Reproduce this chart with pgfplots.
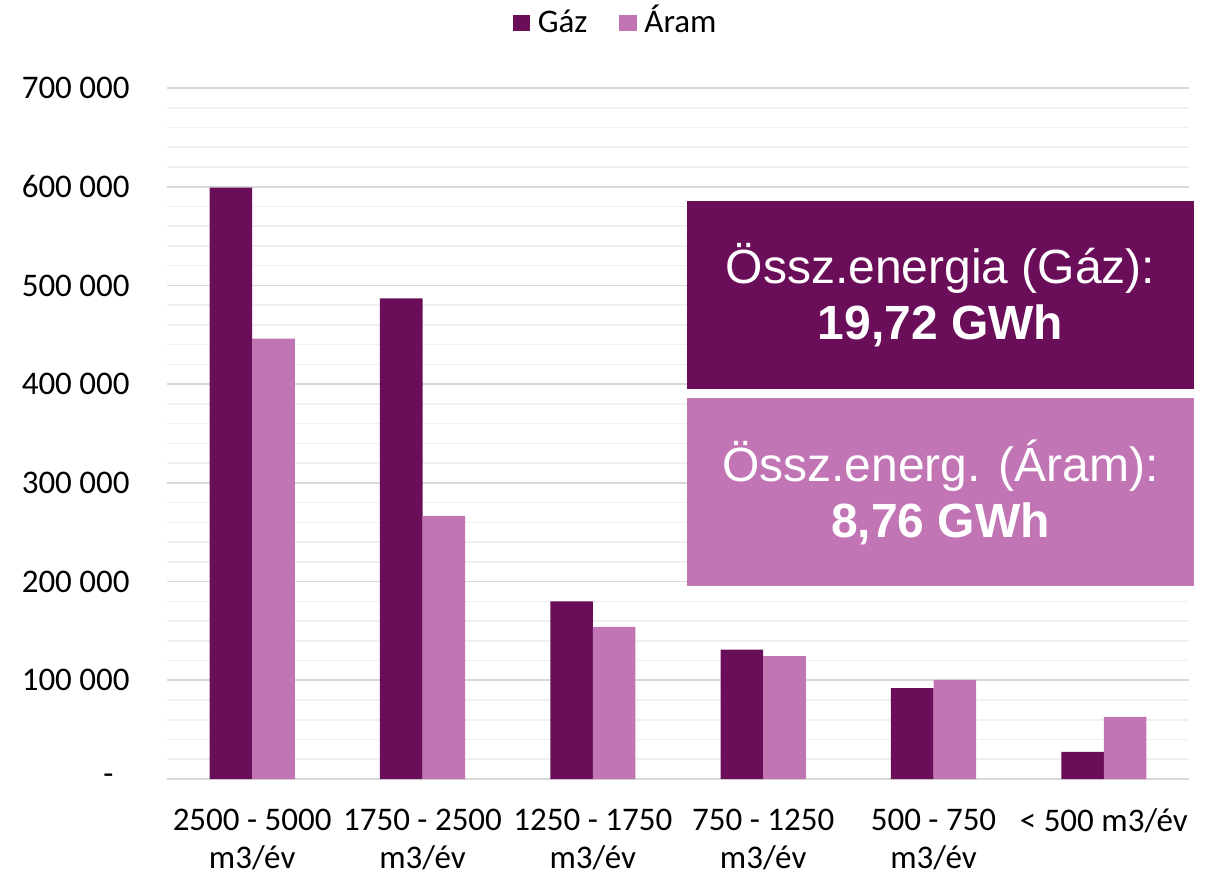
\documentclass[border=0pt]{standalone}
\usepackage{fontspec}
\setmainfont{Carlito}
\newfontfamily\arial{Liberation Sans}
\usepackage{pgfplots}
\pgfplotsset{compat=1.18}
\definecolor{gaz}{HTML}{6B0E5A}
\definecolor{aram}{HTML}{C175B4}
\definecolor{majgrid}{HTML}{D9D9D9}
\definecolor{mingrid}{HTML}{F0F0F0}
\begin{document}
\begin{tikzpicture}
\useasboundingbox (0,0) rectangle (604.5pt,437pt);
\begin{axis}[
  at={(83.5pt,47.5pt)}, anchor=south west,
  scale only axis, width=511pt, height=345.5pt,
  ybar=0pt, bar width=0.25,
  xmin=-0.5, xmax=5.5, ymin=0, ymax=700000,
  scaled y ticks=false,
  xtick={0,1,2,3,4,5},
  xticklabels={{2500 - 5000\\m3/év},{1750 - 2500\\m3/év},{1250 - 1750\\m3/év},{750 - 1250\\m3/év},{500 - 750\\m3/év},{< 500 m3/év}},
  ytick={0,100000,200000,300000,400000,500000,600000,700000},
  yticklabels={{-\hspace*{8pt}},{100 000},{200 000},{300 000},{400 000},{500 000},{600 000},{700 000}},
  minor y tick num=4,
  ymajorgrids, yminorgrids,
  major grid style={draw=majgrid, line width=0.8pt},
  minor grid style={draw=mingrid, line width=0.8pt},
  axis line style={draw=none},
  tick style={draw=none},
  tick label style={font=\fontsize{16.5}{19}\selectfont},
  yticklabel style={anchor=east, inner sep=0pt, xshift=-18.5pt},
  xticklabel style={align=center, anchor=north, inner sep=0pt, yshift=-10.5pt},
  legend style={at={(0.44,1.094)}, anchor=center, draw=none, fill=none,
    legend columns=2, font=\fontsize{16.5}{19.5}\selectfont,
    nodes={text height=12pt, text depth=3pt},
    /tikz/every even column/.append style={column sep=14pt}},
  legend image code/.code={\fill[#1] (0pt,-4.2pt) rectangle (8.6pt,4.2pt); \path (10.5pt,0pt);},
]
\addplot[fill=gaz, draw=none] coordinates {(0,599000) (1,487000) (2,180000) (3,131000) (4,92000) (5,27500)};
\addplot[fill=aram, draw=none] coordinates {(0,446000) (1,266500) (2,154000) (3,124600) (4,100500) (5,63000)};
\legend{Gáz, Áram}
\end{axis}
\fill[gaz] (343.5pt,242.5pt) rectangle (597pt,336.5pt);
\fill[aram] (343.5pt,144pt) rectangle (597pt,238pt);
\node[text=white, align=center, font=\arial\fontsize{24}{28}\selectfont] at (470.25pt,289.5pt) {Össz.energia (Gáz):\\\textbf{19,72 GWh}};
\node[text=white, align=center, font=\arial\fontsize{24}{28}\selectfont] at (470.25pt,191pt) {Össz.energ. (Áram):\\\textbf{8,76 GWh}};
\end{tikzpicture}
\end{document}
